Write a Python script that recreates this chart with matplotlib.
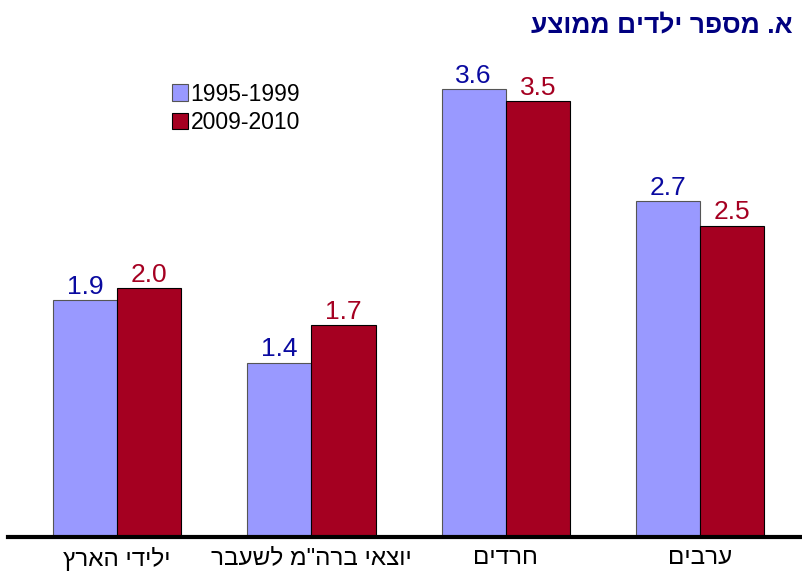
import numpy as np
import matplotlib.pyplot as plt

plt.rcParams['font.family'] = ['Liberation Sans', 'DejaVu Sans']

categories = ['ילידי הארץ', 'יוצאי ברה"מ לשעבר', 'חרדים', 'ערבים']
series_names = ['1995-1999', '2009-2010']
vals_1995 = [1.9, 1.4, 3.6, 2.7]
vals_2009 = [2.0, 1.7, 3.5, 2.5]
title = 'א. מספר ילדים ממוצע'

blue = '#9999FF'
red = '#A50021'
blue_txt = '#0A0AA0'
red_txt = '#A50021'


def as_drawn(s):
    # the reference shows the Hebrew letters in stored order, left to right;
    # the renderer here applies bidi, so hand it the string reversed
    return s[::-1]


fig = plt.figure(figsize=(8.02, 5.73), dpi=100)
ax = fig.add_axes([0.01, 0.063, 0.988, 0.869])

x = np.arange(len(categories))
w = 0.33
b1 = ax.bar(x - w / 2, vals_1995, w, color=blue, edgecolor='#555555', linewidth=0.8, label=series_names[0])
b2 = ax.bar(x + w / 2, vals_2009, w, color=red, edgecolor='black', linewidth=0.8, label=series_names[1])

for bars, vals, col in [(b1, vals_1995, blue_txt), (b2, vals_2009, red_txt)]:
    for bar, v in zip(bars, vals):
        ax.text(bar.get_x() + bar.get_width() / 2, v + 0.01, f'{v:.1f}',
                ha='center', va='bottom', fontsize=19, color=col)

ax.set_xlim(-0.56, 3.515)
ax.set_ylim(0, 4)
ax.set_xticks(x)
ax.set_xticklabels([as_drawn(c) for c in categories], fontsize=17.5)
ax.tick_params(axis='x', length=0, pad=7)
ax.set_yticks([])
for s in ['top', 'right', 'left']:
    ax.spines[s].set_visible(False)
ax.spines['bottom'].set_linewidth(3)

ax.legend(loc='upper left', bbox_to_anchor=(0.2, 0.876), bbox_transform=fig.transFigure,
          frameon=False, fontsize=16.5, handlelength=0.7, handleheight=0.7,
          handletextpad=0.12, labelspacing=0.25, borderpad=0)

fig.text(0.988, 0.955, as_drawn(title), ha='right', va='center', fontsize=19,
         fontweight='bold', color='#000080')

fig.savefig('out.png', dpi=100)
